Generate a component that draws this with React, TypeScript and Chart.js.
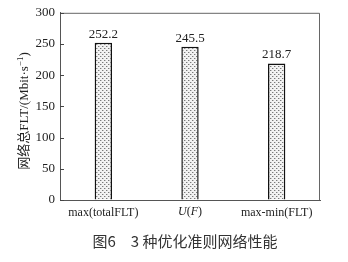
import React, { useEffect, useRef } from "react";
import { Chart, registerables } from "chart.js";

Chart.register(...registerables);

const categories = ["max(totalFLT)", "U(F)", "max-min(FLT)"];
const values = [252.2, 245.5, 218.7];
const valueLabels = ["252.2", "245.5", "218.7"];
const yTitle = "网络总FLT/(Mbit·s";
const yTitleSup = "−1";
const caption = "图6　3 种优化准则网络性能";

const SERIF = "'Liberation Serif', 'Times New Roman', 'Noto Sans CJK SC', serif";

function makePattern(): CanvasPattern | string {
  const c = document.createElement("canvas");
  c.width = 4;
  c.height = 4;
  const g = c.getContext("2d");
  if (!g) return "#ccc";
  g.fillStyle = "#f2f2f2";
  g.fillRect(0, 0, 4, 4);
  g.fillStyle = "#7a7a7a";
  g.fillRect(0, 0, 1, 1);
  g.fillRect(2, 2, 1, 1);
  g.fillStyle = "#c4c4c4";
  g.fillRect(1, 0, 1, 1);
  g.fillRect(3, 2, 1, 1);
  const p = g.createPattern(c, "repeat");
  return p || "#ccc";
}

const decorPlugin = {
  id: "decor",
  afterDraw(chart: any) {
    const ctx = chart.ctx as CanvasRenderingContext2D;
    const area = chart.chartArea;
    const yScale = chart.scales.y;
    const xScale = chart.scales.x;
    ctx.save();
    // box
    ctx.strokeStyle = "#666";
    ctx.lineWidth = 1;
    ctx.beginPath();
    ctx.moveTo(area.left, area.top + 0.5);
    ctx.lineTo(area.right - 0.5, area.top + 0.5);
    ctx.lineTo(area.right - 0.5, area.bottom);
    ctx.stroke();
    // inward ticks on y axis
    ctx.strokeStyle = "#444";
    yScale.ticks.forEach((t: any) => {
      const y = Math.round(yScale.getPixelForValue(t.value)) + 0.5;
      ctx.beginPath();
      ctx.moveTo(area.left, y);
      ctx.lineTo(area.left + 4, y);
      ctx.stroke();
    });
    // value labels
    const meta = chart.getDatasetMeta(0);
    ctx.fillStyle = "#222";
    ctx.font = `13px ${SERIF}`;
    ctx.textAlign = "center";
    ctx.textBaseline = "bottom";
    meta.data.forEach((el: any, i: number) => {
      ctx.fillText(valueLabels[i], el.x, el.y - 2);
    });
    // italic U(F) label
    const cx = xScale.getPixelForValue(1);
    const ty = 212;
    const parts: [string, boolean][] = [["U", true], ["(", false], ["F", true], [")", false]];
    let total = 0;
    const widths = parts.map(([s, it]) => {
      ctx.font = `${it ? "italic " : ""}12px ${SERIF}`;
      const w = ctx.measureText(s).width;
      total += w;
      return w;
    });
    let x = cx - total / 2;
    ctx.textAlign = "left";
    ctx.textBaseline = "middle";
    parts.forEach(([s, it], i) => {
      ctx.font = `${it ? "italic " : ""}12px ${SERIF}`;
      ctx.fillText(s, x, ty);
      x += widths[i];
    });
    // y title rotated
    ctx.save();
    ctx.translate(25, 111);
    ctx.rotate(-Math.PI / 2);
    ctx.font = `13px ${SERIF}`;
    const w1 = ctx.measureText(yTitle).width;
    ctx.font = `9px ${SERIF}`;
    const w2 = ctx.measureText(yTitleSup).width;
    ctx.font = `13px ${SERIF}`;
    const w3 = ctx.measureText(")").width;
    const tw = w1 + w2 + w3;
    let tx = -tw / 2;
    ctx.textBaseline = "middle";
    ctx.fillText(yTitle, tx, 0);
    tx += w1;
    ctx.font = `9px ${SERIF}`;
    ctx.fillText(yTitleSup, tx, -4);
    tx += w2;
    ctx.font = `13px ${SERIF}`;
    ctx.fillText(")", tx, 0);
    ctx.restore();
    // caption
    ctx.fillStyle = "#333";
    ctx.font = `15px 'Noto Sans CJK SC', sans-serif`;
    ctx.textAlign = "center";
    ctx.textBaseline = "middle";
    ctx.fillText(caption, 185, 241);
    ctx.restore();
  },
};

export default function App() {
  const ref = useRef<HTMLCanvasElement | null>(null);
  useEffect(() => {
    if (!ref.current) return;
    const pattern = makePattern();
    const chart = new Chart(ref.current, {
      type: "bar",
      data: {
        labels: categories,
        datasets: [
          {
            data: values,
            backgroundColor: pattern as any,
            borderColor: "#111",
            borderWidth: 1.5,
            barPercentage: 0.2,
            categoryPercentage: 1,
          },
        ],
      },
      options: {
        animation: false,
        responsive: false,
        maintainAspectRatio: false,
        layout: { padding: { left: 0, right: 28, top: 10, bottom: 0 } },
        plugins: { legend: { display: false }, tooltip: { enabled: false }, title: { display: false } },
        scales: {
          x: {
            grid: { display: false, drawTicks: false },
            border: { display: true, color: "#555" },
            ticks: {
              padding: 6,
              font: { family: SERIF, size: 12 },
              color: (c: any) => (c.index === 1 ? "rgba(0,0,0,0)" : "#222"),
              maxRotation: 0,
            },
            afterFit: (s: any) => {
              s.height = 62;
            },
          },
          y: {
            min: 0,
            max: 300,
            grid: { drawOnChartArea: false, drawTicks: false },
            border: { display: true, color: "#555" },
            ticks: {
              stepSize: 50,
              padding: 5,
              font: { family: SERIF, size: 13 },
              color: "#222",
            },
            afterFit: (s: any) => {
              s.width = 60;
            },
          },
        },
      },
      plugins: [decorPlugin],
    });
    return () => chart.destroy();
  }, []);
  return (
    <div style={{ position: "fixed", left: 0, top: 0, width: 348, height: 262, background: "#fff" }}>
      <canvas ref={ref} width={348} height={262} style={{ width: 348, height: 262 }} />
    </div>
  );
}
